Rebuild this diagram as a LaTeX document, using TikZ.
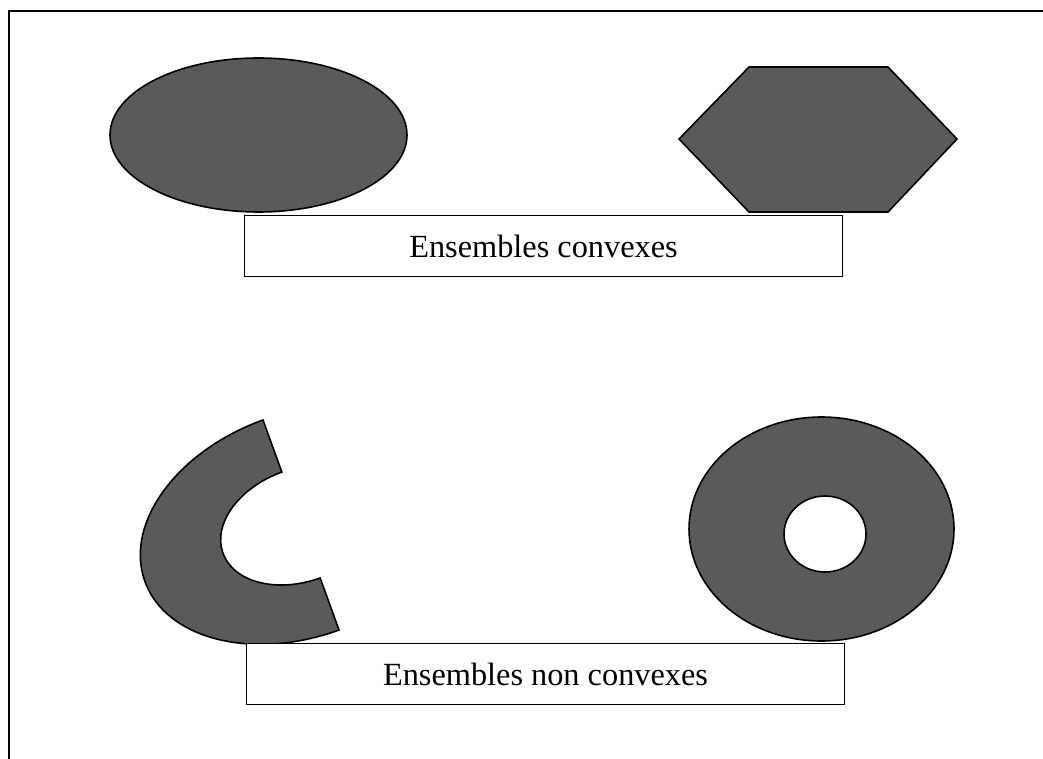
\documentclass[tikz,border=0pt]{standalone}
\usepackage{fontspec}
\setmainfont{Liberation Serif}
\definecolor{setgray}{RGB}{90,90,90}
\begin{document}
\begin{tikzpicture}[x=0.02cm,y=0.02cm,
  setshape/.style={fill=setgray,draw=black,line width=0.9pt},
  caption/.style={draw=black,line width=1pt,fill=white,inner sep=0pt,
    minimum width=598*0.02cm,minimum height=61*0.02cm,
    font=\fontsize{18.4}{22}\selectfont}]
\useasboundingbox (0,0) rectangle (1043,758);
% page frame (top and left edges)
\draw[line width=1.2pt] (9,-5) -- (9,747) -- (1050,747);

% convex sets
\draw[setshape] (258.5,623) ellipse [x radius=148.5,y radius=77];
\draw[setshape] (679,619) -- (749,691) -- (888,691) -- (957,619)
  -- (888,546) -- (749,546) -- cycle;
\node[caption] (convex) at (543.5,512) {Ensembles convexes};

% non-convex sets: half elliptic ring
\begin{scope}[shift={(301,233)},rotate=-70.1]
  \draw[setshape] (111.7,0) arc [start angle=0,end angle=-180,
      x radius=111.7,y radius=166]
    -- (-56.3,0) arc [start angle=180,end angle=360,
      x radius=56.3,y radius=83] -- cycle;
\end{scope}
% ring with a hole
\draw[setshape,even odd rule] (821.5,229) ellipse [x radius=132.5,y radius=112]
  (825,224) ellipse [x radius=41,y radius=38];
\node[caption] (nonconvex) at (545.5,84) {Ensembles non convexes};
\end{tikzpicture}
\end{document}
